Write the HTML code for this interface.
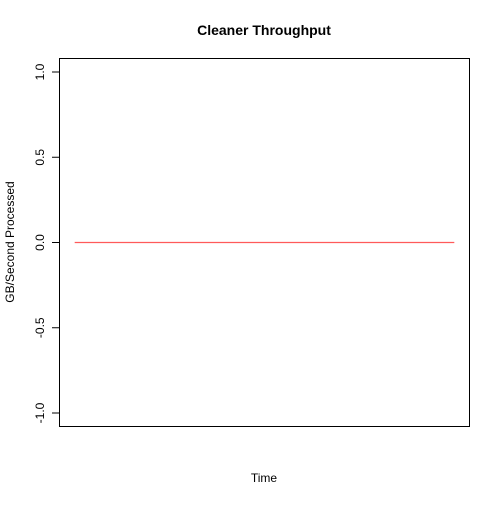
<!DOCTYPE html>
<html><head><meta charset="utf-8"><style>
html,body{margin:0;padding:0;background:#fff;}
svg text{font-family:"Liberation Sans",Arial,sans-serif;}
</style></head><body>
<svg id="chart" width="500" height="500" viewBox="0 0 500 500" xmlns="http://www.w3.org/2000/svg">
<rect width="500" height="500" fill="#fff"/>
<text x="264" y="35" text-anchor="middle" font-size="14" font-weight="bold">Cleaner Throughput</text>
<rect x="59.5" y="58.5" width="410" height="368" fill="none" stroke="#000" stroke-width="1"/>
<text x="264" y="482" text-anchor="middle" font-size="12">Time</text>
<text transform="translate(14,242) rotate(-90)" text-anchor="middle" font-size="12">GB/Second Processed</text>
<g id="yaxis"></g>
<g id="series"></g>
</svg>
<script>
const yTicks = [-1.0, -0.5, 0.0, 0.5, 1.0];
const yTickLabels = ["-1.0", "-0.5", "0.0", "0.5", "1.0"];
const seriesValues = [0,0,0,0,0,0,0,0,0,0,0,0,0,0,0,0,0,0,0,0];

const NS = "http://www.w3.org/2000/svg";
const px0 = 59.5, px1 = 469.5;
const n = seriesValues.length;
const xMin = 1 - (n - 1) * 0.04, xMax = n + (n - 1) * 0.04;
function xScale(i){ return px0 + (i - xMin) / (xMax - xMin) * (px1 - px0); }
function yScale(v){ return 242.5 - v * 170.5; }

const yAxis = document.getElementById('yaxis');
yTicks.forEach((t, k) => {
  const y = yScale(t);
  const ln = document.createElementNS(NS, 'line');
  
  
  ln.setAttribute('x1', 52); ln.setAttribute('x2', 59.5);
  ln.setAttribute('y1', y); ln.setAttribute('y2', y);
  ln.setAttribute('stroke', '#000');
  yAxis.appendChild(ln);
  const tx = document.createElementNS(NS, 'text');
  
  
  tx.setAttribute('transform', 'translate(44,' + y + ') rotate(-90)');
  tx.setAttribute('text-anchor', 'middle');
  tx.setAttribute('font-size', '12');
  tx.textContent = yTickLabels[k];
  yAxis.appendChild(tx);
});

const pts = seriesValues.map((v, i) => xScale(i + 1).toFixed(2) + ',' + yScale(v).toFixed(2)).join(' ');
const pl = document.createElementNS(NS, 'polyline');


pl.setAttribute('points', pts);
pl.setAttribute('fill', 'none');
pl.setAttribute('stroke', '#ff5a5a');
pl.setAttribute('stroke-width', '1.2');
document.getElementById('series').appendChild(pl);
</script>
</body></html>
